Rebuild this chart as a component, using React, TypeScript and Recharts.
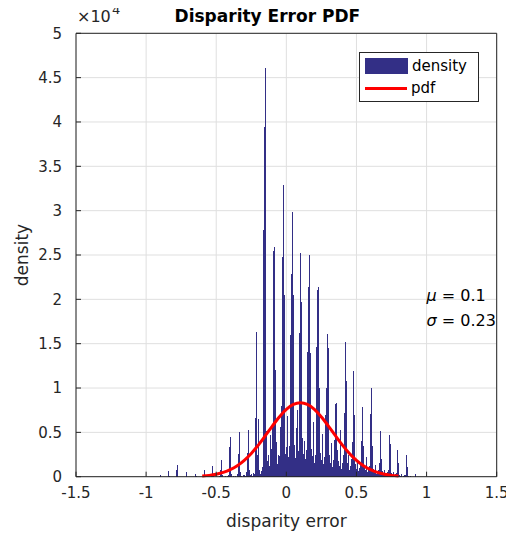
import {
  ComposedChart,
  Bar,
  Line,
  XAxis,
  YAxis,
  CartesianGrid,
  Legend,
  ReferenceDot,
} from "recharts";

// histogram bins: centre of first bin and bin width (disparity units)
const binStart = -0.9285;
const binWidth = 0.00698;

// counts, one row per 1/16 px disparity step (9 bins, peak bin in the middle)
const counts = [
  0, 0, 0, 0, 200, 0, 0, 0, 0,
  0, 0, 0, 0, 600, 100, 0, 0, 0,
  0, 0, 0, 700, 1300, 0, 0, 0, 0,
  0, 0, 0, 0, 500, 0, 0, 0, 0,
  0, 0, 0, 0, 300, 100, 0, 0, 0,
  0, 0, 0, 100, 700, 0, 0, 0, 0,
  0, 0, 0, 300, 1200, 100, 0, 0, 0,
  0, 0, 100, 800, 1900, 200, 0, 0, 100,
  0, 100, 200, 3400, 4500, 300, 0, 100, 0,
  100, 0, 300, 2600, 5000, 500, 100, 0, 200,
  200, 100, 500, 2700, 5300, 800, 200, 300, 100,
  400, 300, 1200, 6600, 16300, 2400, 6500, 800, 300,
  600, 1100, 27800, 39400, 46100, 5200, 1800, 2400, 1200,
  4700, 3100, 5600, 25500, 25900, 12000, 3900, 1400, 2500,
  2300, 5600, 8000, 24800, 32900, 20500, 2600, 3300, 6800,
  2200, 3500, 16000, 22900, 29800, 20500, 3600, 2100, 5500,
  7500, 2900, 16200, 25200, 28800, 19700, 4400, 2600, 4000,
  2000, 3000, 14100, 21400, 25000, 14000, 3100, 2300, 6200,
  1600, 2500, 14600, 21000, 21400, 10000, 2700, 1900, 4800,
  1400, 2200, 7000, 10000, 16100, 14500, 2400, 1600, 3800,
  1100, 1900, 4100, 8200, 8300, 3000, 1800, 1200, 5300,
  900, 1500, 2500, 7200, 15200, 10800, 1600, 1100, 2500,
  800, 1200, 2000, 3900, 11900, 7000, 1400, 900, 1800,
  600, 1000, 1500, 4000, 7900, 3500, 1100, 700, 2200,
  500, 800, 1200, 7100, 10000, 3500, 900, 600, 1300,
  300, 500, 700, 1500, 5200, 2000, 600, 400, 800,
  200, 300, 500, 800, 4700, 3700, 400, 200, 500,
  100, 200, 300, 400, 3000, 1500, 200, 100, 300,
  0, 100, 200, 200, 2400, 1100, 100, 0, 100,
  0, 0, 0, 0, 300, 0, 0, 0, 0,
];

// fitted normal curve
const pdfX = [
  -0.6, -0.55, -0.5, -0.45, -0.4, -0.35, -0.3, -0.25, -0.2, -0.15, -0.1, -0.05,
  0, 0.05, 0.1, 0.15, 0.2, 0.25, 0.3, 0.35, 0.4, 0.45, 0.5, 0.55, 0.6, 0.65,
  0.7, 0.75, 0.8,
];
const pdfY = [
  80, 150, 280, 480, 790, 1230, 1840, 2620, 3560, 4620, 5710, 6740, 7590, 8150,
  8340, 8150, 7590, 6740, 5710, 4620, 3560, 2620, 1840, 1230, 790, 480, 280,
  150, 80,
];

const xTicks = [-1.5, -1, -0.5, 0, 0.5, 1, 1.5];
const yTicks = [0, 5000, 10000, 15000, 20000, 25000, 30000, 35000, 40000, 45000, 50000];

const mu = 0.1;
const sigma = 0.23;

const FONT = "'DejaVu Sans', sans-serif";
const AXIS = "#262626";
const BAR = "#332f86";

const bins = counts.map((h, i) => ({ x: binStart + i * binWidth, count: h }));
const pdfData = pdfX.map((x, i) => ({ x, pdf: pdfY[i] }));

const tickStyle = { fill: AXIS, fontSize: 15, fontFamily: FONT };

function LeftLabels({ viewBox }: any) {
  const cx = viewBox.x + 22;
  const cy = viewBox.y + viewBox.height / 2;
  return (
    <g fontFamily={FONT} fill={AXIS}>
      <text
        x={cx}
        y={cy}
        fontSize={17}
        textAnchor="middle"
        dominantBaseline="central"
        transform={`rotate(-90 ${cx} ${cy})`}
      >
        density
      </text>
      <text x={77} y={22} fontSize={16}>
        ×10
      </text>
      <text x={112} y={14} fontSize={13}>
        4
      </text>
    </g>
  );
}

function BottomLabel({ viewBox }: any) {
  return (
    <text
      x={viewBox.x + viewBox.width / 2}
      y={viewBox.y + 44.3}
      fontFamily={FONT}
      fontSize={17}
      fill={AXIS}
      textAnchor="middle"
      dominantBaseline="central"
    >
      disparity error
    </text>
  );
}

function TitleLabel({ viewBox }: any) {
  return (
    <text
      x={viewBox.x + viewBox.width / 2 - 19}
      y={viewBox.y - 10.3}
      fontFamily={FONT}
      fontSize={17}
      fontWeight="bold"
      fill="#000"
      textAnchor="middle"
    >
      Disparity Error PDF
    </text>
  );
}

function StatsLabel({ viewBox }: any) {
  const { x, y } = viewBox;
  return (
    <text x={x} y={y} fontFamily={FONT} fontSize={16} fill="#000">
      <tspan x={x} dy={1.5}>
        <tspan fontStyle="italic">μ</tspan> = {mu}
      </tspan>
      <tspan x={x} dy={25}>
        <tspan fontStyle="italic">σ</tspan> = {sigma}
      </tspan>
    </text>
  );
}

function LegendBox({ payload }: any) {
  return (
    <div
      style={{
        width: 120,
        height: 50,
        boxSizing: "border-box",
        border: `1px solid ${AXIS}`,
        background: "#fff",
        padding: "2px 0 0 5px",
        fontFamily: FONT,
        fontSize: 15,
        color: "#000",
      }}
    >
      {(payload || []).map((entry: any) => (
        <div key={entry.value} style={{ display: "flex", alignItems: "center", height: 22 }}>
          {entry.type === "line" ? (
            <span style={{ width: 42, height: 3, background: entry.color }} />
          ) : (
            <span style={{ width: 43, height: 16, background: entry.color }} />
          )}
          <span style={{ marginLeft: 4, lineHeight: "22px" }}>{entry.value}</span>
        </div>
      ))}
    </div>
  );
}

export default function App() {
  return (
    <div style={{ position: "relative", marginTop: -8, marginLeft: -8 }}>
      <ComposedChart
        width={514}
        height={539}
        data={bins}
        barCategoryGap={0}
        margin={{ top: 32.3, right: 16.3, bottom: 32.3, left: 0 }}
      >
        <CartesianGrid stroke="#dfdfdf" />
        <XAxis
          dataKey="x"
          type="number"
          domain={[-1.5, 1.5]}
          ticks={xTicks}
          tickSize={-5}
          tickMargin={16}
          height={30}
          stroke={AXIS}
          tick={tickStyle}
          label={BottomLabel}
        />
        <XAxis
          xAxisId="top"
          orientation="top"
          dataKey="x"
          type="number"
          domain={[-1.5, 1.5]}
          ticks={xTicks}
          tickSize={-5}
          tick={false}
          height={1}
          stroke={AXIS}
          label={TitleLabel}
        />
        <YAxis
          type="number"
          domain={[0, 50000]}
          ticks={yTicks}
          tickSize={-5}
          tickMargin={19}
          width={76}
          stroke={AXIS}
          tick={tickStyle}
          tickFormatter={(v: number) => String(v / 10000)}
          label={LeftLabels}
        />
        <YAxis
          yAxisId="right"
          orientation="right"
          type="number"
          domain={[0, 50000]}
          ticks={yTicks}
          tickSize={-5}
          tick={false}
          width={1}
          stroke={AXIS}
        />
        <Bar
          dataKey="count"
          name="density"
          fill={BAR}
          shapeRendering="crispEdges"
          isAnimationActive={false}
        />
        <Line
          data={pdfData}
          xAxisId="top"
          yAxisId="right"
          dataKey="pdf"
          name="pdf"
          type="monotone"
          stroke="#ff0000"
          strokeWidth={3}
          dot={false}
          isAnimationActive={false}
        />
        <ReferenceDot x={1} y={20000} r={0} ifOverflow="visible" label={StatsLabel} />
        <Legend
          layout="horizontal"
          align="center"
          verticalAlign="middle"
          content={LegendBox}
          wrapperStyle={{ left: 359, top: 52.3, width: 120, height: 50 }}
        />
      </ComposedChart>
    </div>
  );
}
